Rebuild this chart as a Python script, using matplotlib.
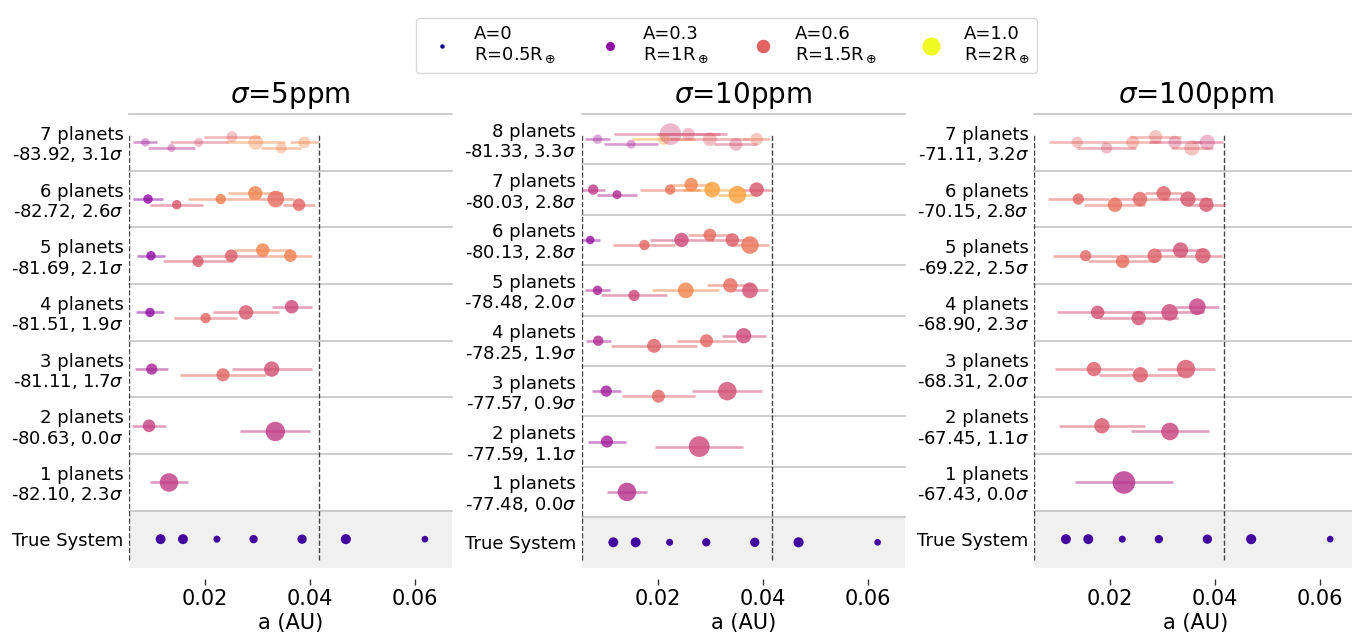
import numpy as np
import matplotlib
matplotlib.use("Agg")
import matplotlib.pyplot as plt
from matplotlib.lines import Line2D

plt.rcParams['font.family'] = ['DejaVu Sans']

# ---------------------------------------------------------------------------
# Data
# ---------------------------------------------------------------------------
noise_levels = ["5ppm", "10ppm", "100ppm"]

# True (injected) system: semi-major axes [AU], radii [R_earth], albedo
true_a = [0.01154, 0.01580, 0.02227, 0.02925, 0.03849, 0.04683, 0.06189]
true_R = [1.10, 1.10, 0.78, 0.92, 1.03, 1.12, 0.74]
true_A = 0.1

# Evidence (log Z) and significance relative to the best model, per number of planets
logz_5ppm = [-82.10, -80.63, -81.11, -81.51, -81.69, -82.72, -83.92]
sig_5ppm = [2.3, 0.0, 1.7, 1.9, 2.1, 2.6, 3.1]
logz_10ppm = [-77.48, -77.59, -77.57, -78.25, -78.48, -80.13, -80.03, -81.33]
sig_10ppm = [0.0, 1.1, 0.9, 1.9, 2.0, 2.8, 2.8, 3.3]
logz_100ppm = [-67.43, -67.45, -68.31, -68.90, -69.22, -70.15, -71.11]
sig_100ppm = [0.0, 1.1, 2.0, 2.3, 2.5, 2.8, 3.2]

# Retrieved planets: one inner list per model (1 planet, 2 planets, ...)
a_5ppm = [
    [0.01314],
    [0.00933, 0.03339],
    [0.00985, 0.02343, 0.03270],
    [0.00952, 0.02013, 0.02781, 0.03651],
    [0.00971, 0.01867, 0.02501, 0.03100, 0.03625],
    [0.00914, 0.01461, 0.02299, 0.02958, 0.03347, 0.03790],
    [0.00863, 0.01358, 0.01880, 0.02514, 0.02966, 0.03453, 0.03891],
]
aerr_5ppm = [
    [0.0036],
    [0.0032, 0.0067],
    [0.0031, 0.0082, 0.0076],
    [0.0027, 0.0060, 0.0062, 0.0038],
    [0.0026, 0.0067, 0.0070, 0.0054, 0.0042],
    [0.0028, 0.0051, 0.0062, 0.0052, 0.0035, 0.0030],
    [0.0023, 0.0045, 0.0055, 0.0053, 0.0056, 0.0038, 0.0028],
]
alb_5ppm = [
    [0.45],
    [0.47, 0.45],
    [0.37, 0.60, 0.52],
    [0.30, 0.60, 0.55, 0.50],
    [0.30, 0.55, 0.57, 0.70, 0.68],
    [0.30, 0.55, 0.68, 0.70, 0.62, 0.60],
    [0.35, 0.40, 0.55, 0.60, 0.72, 0.70, 0.70],
]
rad_5ppm = [
    [2.05],
    [1.40, 2.15],
    [1.25, 1.45, 1.70],
    [1.05, 1.15, 1.60, 1.50],
    [1.05, 1.25, 1.40, 1.50, 1.40],
    [1.05, 1.05, 1.15, 1.60, 1.85, 1.40],
    [0.95, 0.90, 1.00, 1.20, 1.65, 1.20, 1.30],
]

a_10ppm = [
    [0.01415],
    [0.01033, 0.02791],
    [0.01020, 0.02013, 0.03326],
    [0.00867, 0.01931, 0.02930, 0.03637],
    [0.00854, 0.01549, 0.02535, 0.03383, 0.03757],
    [0.00714, 0.01746, 0.02453, 0.02993, 0.03421, 0.03757],
    [0.00772, 0.01224, 0.02237, 0.02638, 0.03039, 0.03517, 0.03885],
    [0.00854, 0.01492, 0.02115, 0.02243, 0.02993, 0.03490, 0.03885, 0.02586],
]
aerr_10ppm = [
    [0.0038],
    [0.0036, 0.0084],
    [0.0028, 0.0069, 0.0067],
    [0.0024, 0.0082, 0.0057, 0.0042],
    [0.0024, 0.0063, 0.0064, 0.0044, 0.0034],
    [0.0019, 0.0059, 0.0060, 0.0042, 0.0040, 0.0037],
    [0.0022, 0.0038, 0.0057, 0.0040, 0.0055, 0.0037, 0.0028],
    [0.0024, 0.0052, 0.0060, 0.0108, 0.0075, 0.0041, 0.0026, 0.0060],
]
alb_10ppm = [
    [0.42],
    [0.35, 0.50],
    [0.35, 0.60, 0.52],
    [0.40, 0.58, 0.60, 0.50],
    [0.37, 0.50, 0.70, 0.62, 0.53],
    [0.32, 0.60, 0.50, 0.62, 0.57, 0.65],
    [0.45, 0.40, 0.65, 0.70, 0.78, 0.78, 0.55],
    [0.35, 0.38, 0.78, 0.50, 0.58, 0.52, 0.65, 0.55],
]
rad_10ppm = [
    [2.05],
    [1.35, 2.30],
    [1.25, 1.45, 2.05],
    [1.15, 1.55, 1.45, 1.70],
    [1.05, 1.25, 1.75, 1.60, 1.75],
    [0.95, 1.15, 1.60, 1.40, 1.50, 1.95],
    [1.15, 1.00, 1.15, 1.50, 1.75, 1.95, 1.60],
    [1.05, 1.00, 1.30, 2.40, 1.55, 1.45, 1.40, 1.40],
]

a_100ppm = [
    [0.02259],
    [0.01840, 0.03135],
    [0.01688, 0.02571, 0.03440],
    [0.01758, 0.02539, 0.03130, 0.03657],
    [0.01530, 0.02234, 0.02844, 0.03339, 0.03764],
    [0.01390, 0.02088, 0.02564, 0.03015, 0.03478, 0.03829],
    [0.01371, 0.01930, 0.02425, 0.02863, 0.03230, 0.03554, 0.03848],
]
aerr_100ppm = [
    [0.0094],
    [0.0082, 0.0075],
    [0.0074, 0.0078, 0.0056],
    [0.0078, 0.0075, 0.0065, 0.0041],
    [0.0062, 0.0066, 0.0058, 0.0046, 0.0037],
    [0.0058, 0.0058, 0.0055, 0.0035, 0.0045, 0.0035],
    [0.0053, 0.0056, 0.0055, 0.0049, 0.0050, 0.0040, 0.0030],
]
alb_100ppm = [
    [0.42],
    [0.55, 0.48],
    [0.57, 0.57, 0.55],
    [0.52, 0.52, 0.50, 0.47],
    [0.60, 0.62, 0.58, 0.52, 0.55],
    [0.60, 0.63, 0.60, 0.58, 0.55, 0.55],
    [0.60, 0.55, 0.62, 0.60, 0.52, 0.60, 0.50],
]
rad_100ppm = [
    [2.50],
    [1.70, 1.95],
    [1.60, 1.70, 2.05],
    [1.50, 1.60, 1.85, 1.85],
    [1.25, 1.50, 1.60, 1.70, 1.70],
    [1.25, 1.60, 1.60, 1.60, 1.70, 1.60],
    [1.25, 1.25, 1.45, 1.45, 1.45, 1.70, 1.70],
]

legend_A = [0, 0.3, 0.6, 1.0]
legend_R = [0.5, 1, 1.5, 2]
legend_labels = ["A=0\nR=0.5R$_\\oplus$", "A=0.3\nR=1R$_\\oplus$",
                 "A=0.6\nR=1.5R$_\\oplus$", "A=1.0\nR=2R$_\\oplus$"]

a_limit = 0.0417
xticks = [0.02, 0.04, 0.06]
xtick_labels = ["0.02", "0.04", "0.06"]

panels = [
    (a_5ppm, aerr_5ppm, alb_5ppm, rad_5ppm, logz_5ppm, sig_5ppm),
    (a_10ppm, aerr_10ppm, alb_10ppm, rad_10ppm, logz_10ppm, sig_10ppm),
    (a_100ppm, aerr_100ppm, alb_100ppm, rad_100ppm, logz_100ppm, sig_100ppm),
]

# ---------------------------------------------------------------------------
# Figure
# ---------------------------------------------------------------------------
cmap = plt.get_cmap("plasma")
W, H = 1352, 635
fig = plt.figure(figsize=(W / 100, H / 100), dpi=100)

lefts = [129, 581.7, 1034.3]
ax_w, ax_top, ax_bot = 323, 114, 567.5
xlim = (0.00552, 0.06705)


def msize(r):
    # marker diameter in points for a radius in Earth radii
    return 6.5 * r


lane_shift = [0.0, -0.1, 0.0, 0.1]

for p, (left, data, noise) in enumerate(zip(lefts, panels, noise_levels)):
    a_rows, e_rows, A_rows, R_rows, logz, sig = data
    ax = fig.add_axes([left / W, 1 - ax_bot / H, ax_w / W, (ax_bot - ax_top) / H])
    n = len(a_rows)

    for s in ax.spines.values():
        s.set_visible(False)
    ax.spines["bottom"].set_position(("outward", 8))

    # true system band
    ax.axhspan(-0.5, 0.5, color="#f0f0f0", zorder=0, lw=0)
    ax.scatter(true_a, np.zeros(len(true_a)), s=[msize(r) ** 2 for r in true_R],
               color=cmap(true_A), edgecolors="none", zorder=3)

    for k in range(n):
        row = k + 1
        faded = sig[k] > 3.0
        m_alpha = 0.38 if faded else 0.8
        e_alpha = 0.45 if faded else 0.5
        for i, (a, e, alb, r) in enumerate(zip(a_rows[k], e_rows[k], A_rows[k], R_rows[k])):
            y = row + lane_shift[i % 4]
            col = cmap(alb)
            ax.plot([a - e, a + e], [y, y], color=col, alpha=e_alpha,
                    lw=1.9, solid_capstyle="butt", zorder=2)
            ax.scatter([a], [y], s=msize(r) ** 2, color=col, alpha=m_alpha,
                       edgecolors="none", zorder=3)

    # row separators
    for k in range(n + 1):
        ax.axhline(k + 0.5, color="#c4c4c4", lw=1.2, zorder=1, clip_on=False)

    ax.axvline(xlim[0], ymin=0.0155, ymax=0.958, color="#444444", ls="--", lw=1.0, zorder=1)
    ax.axvline(a_limit, ymin=0.0155, ymax=0.958, color="#444444", ls="--", lw=1.0, zorder=1)

    ax.set_xlim(*xlim)
    ax.set_ylim(-0.5, n + 0.5)

    ylabels = ["True System"] + [
        f"{k + 1} planets\n{logz[k]:.2f}, {sig[k]:.1f}$\\sigma$" for k in range(n)
    ]
    ax.set_yticks(range(n + 1))
    ax.set_yticklabels(ylabels, linespacing=1.1)
    ax.tick_params(axis="y", length=0, pad=4, labelsize=13)

    ax.set_xticks(xticks)
    ax.set_xticklabels(xtick_labels)
    ax.tick_params(axis="x", length=4.2, width=1.0, color="#333333", pad=3.5,
                   labelsize=15)

    ax.set_xlabel("a (AU)", fontsize=15, labelpad=3)
    ax.set_title(f"$\\sigma$={noise}", fontsize=20, pad=8)

handles = [Line2D([], [], marker="o", ls="none", color=cmap(A), markeredgewidth=0,
                  markersize=msize(R)) for A, R in zip(legend_A, legend_R)]
fig.legend(handles, legend_labels, loc="upper center", ncol=4, fontsize=13,
           bbox_to_anchor=(726.5 / W, 1 - 9 / H), frameon=True, edgecolor="#d0d0d0",
           borderpad=0.4, columnspacing=2.0, handletextpad=0.8)

fig.savefig("out.png", dpi=100)
